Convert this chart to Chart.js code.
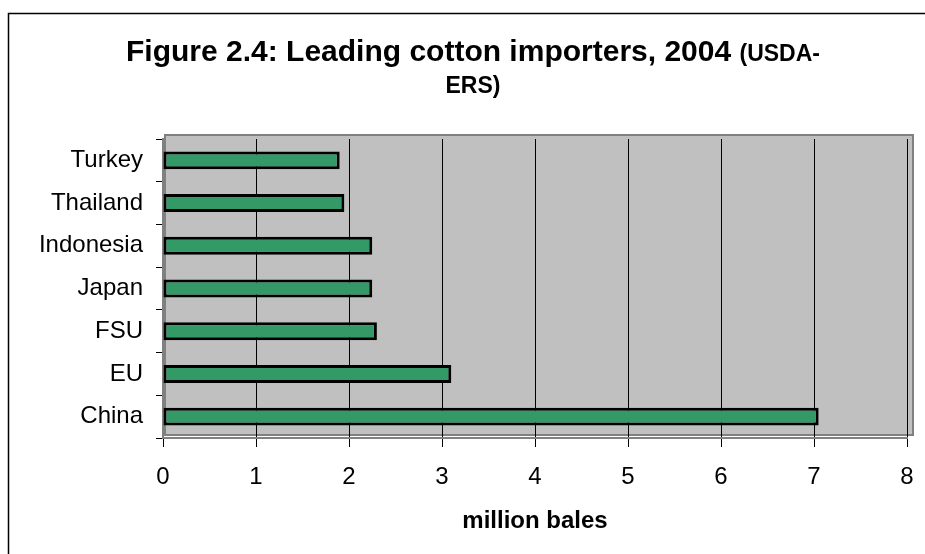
<!DOCTYPE html>
<html>
<head>
<meta charset="utf-8">
<script src="https://cdn.jsdelivr.net/npm/chart.js@4.4.1/dist/chart.umd.min.js"></script>
<style>
    html, body { margin: 0; padding: 0; background: #ffffff; }
    #wrap { width: 925px; height: 554px; }
</style>
</head>
<body>
<div id="wrap"><canvas id="importersChart" width="925" height="554"></canvas></div>
<script>
// Leading cotton importers, 2004 (million bales), listed top to bottom
const countries = ['Turkey', 'Thailand', 'Indonesia', 'Japan', 'FSU', 'EU', 'China'];
const imports = [1.9, 1.95, 2.25, 2.25, 2.3, 3.1, 7.05];
const valueTicks = [0, 1, 2, 3, 4, 5, 6, 7, 8];

const titleMain = 'Figure 2.4: Leading cotton importers, 2004 ';
const titleSource = ['(USDA-', 'ERS)'];
const axisTitle = 'million bales';

const FONT = '"Liberation Sans", Arial, sans-serif';

// Outer frame, grey plot area and the two-size title
const framePlugin = {
    id: 'frame',
    beforeDraw(chart) {
        const ctx = chart.ctx;
        const a = chart.chartArea;
        ctx.save();
        ctx.fillStyle = '#ffffff';
        ctx.fillRect(0, 0, chart.width, chart.height);

        ctx.strokeStyle = '#000000';
        ctx.lineWidth = 1.5;
        ctx.beginPath();
        ctx.moveTo(8.5, chart.height);
        ctx.lineTo(8.5, 13.5);
        ctx.lineTo(chart.width, 13.5);
        ctx.stroke();

        ctx.fillStyle = '#c0c0c0';
        ctx.fillRect(a.left + 2, a.top - 4, a.right - a.left + 4, a.bottom - a.top + 1);
        ctx.strokeStyle = '#808080';
        ctx.lineWidth = 2;
        ctx.strokeRect(a.left + 2, a.top - 4, a.right - a.left + 4, a.bottom - a.top + 1);
        ctx.restore();
    },
    afterDraw(chart) {
        const ctx = chart.ctx;
        const cx = 473;
        ctx.save();
        ctx.fillStyle = '#000000';
        ctx.textBaseline = 'alphabetic';
        ctx.textAlign = 'left';
        const bigFont = 'bold 30px ' + FONT;
        const smallFont = 'bold 23px ' + FONT;
        ctx.font = bigFont;
        const w1 = ctx.measureText(titleMain).width;
        ctx.font = smallFont;
        const w2 = ctx.measureText(titleSource[0]).width;
        const x = cx - (w1 + w2) / 2;
        ctx.font = bigFont;
        ctx.fillText(titleMain, x, 61);
        ctx.font = smallFont;
        ctx.fillText(titleSource[0], x + w1, 61);
        ctx.textAlign = 'center';
        ctx.fillText(titleSource[1], cx, 93);
        ctx.restore();
    }
};

const ctx = document.getElementById('importersChart').getContext('2d');
const chart = new Chart(ctx, {
    type: 'bar',
    data: {
        labels: countries,
        datasets: [{
            data: imports,
            backgroundColor: '#339966',
            borderColor: '#000000',
            borderWidth: 3,
            borderSkipped: false,
            barPercentage: 0.42,
            categoryPercentage: 1
        }]
    },
    options: {
        indexAxis: 'y',
        responsive: false,
        animation: false,
        layout: { padding: { left: 0, top: 139, right: 18, bottom: 0 } },
        plugins: {
            legend: { display: false },
            tooltip: { enabled: false }
        },
        scales: {
            x: {
                min: 0,
                max: 8,
                afterBuildTicks(scale) {
                    scale.ticks = valueTicks.map(v => ({ value: v }));
                },
                afterFit(scale) {
                    scale.height = 116;
                    scale.paddingRight = 0;
                },
                grid: {
                    color: '#000000',
                    lineWidth: 1,
                    tickLength: 9,
                    tickColor: '#000000'
                },
                border: { color: '#808080', width: 2 },
                ticks: {
                    color: '#000000',
                    padding: 16,
                    font: { family: FONT, size: 24 }
                },
                title: {
                    display: true,
                    text: axisTitle,
                    color: '#000000',
                    font: { family: FONT, size: 24, weight: 'bold' },
                    padding: { top: 0, bottom: 18 }
                }
            },
            y: {
                afterFit(scale) { scale.width = 163; },
                grid: {
                    offset: true,
                    drawOnChartArea: false,
                    tickLength: 7,
                    tickColor: '#000000',
                    color: '#000000'
                },
                border: { color: '#808080', width: 2 },
                ticks: {
                    color: '#000000',
                    padding: 13,
                    font: { family: FONT, size: 24 }
                }
            }
        }
    },
    plugins: [framePlugin]
});
</script>
</body>
</html>
